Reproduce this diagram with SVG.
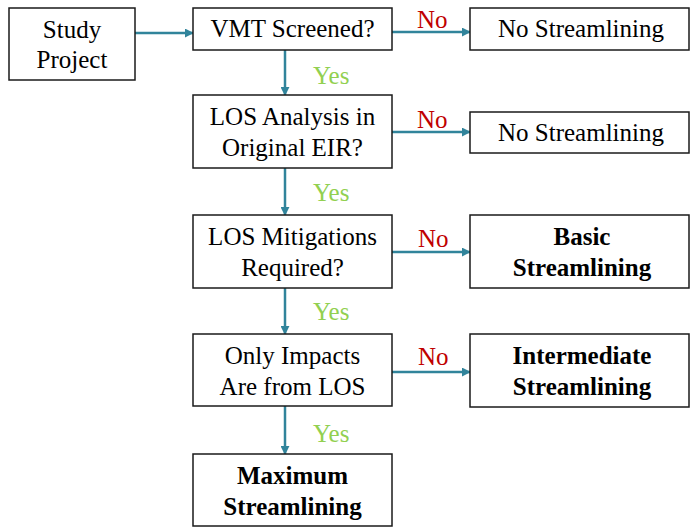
<svg xmlns="http://www.w3.org/2000/svg" width="690" height="527" viewBox="0 0 690 527">
<style>
.box{fill:#fff;stroke:#1a1a1a;stroke-width:1.5}
.t{font-family:"Liberation Serif","Times New Roman",serif;font-size:25px;fill:#000;text-anchor:middle}
.b{font-weight:bold}
.yes{font-family:"Liberation Serif","Times New Roman",serif;font-size:25px;fill:#92d050}
.no{font-family:"Liberation Serif","Times New Roman",serif;font-size:25px;fill:#c00000}
.c{stroke:#31849b;stroke-width:2.5;fill:none;marker-end:url(#ah)}
</style>
<defs>
<marker id="ah" viewBox="0 0 10 10" refX="9" refY="5" markerUnits="userSpaceOnUse" markerWidth="9" markerHeight="9" orient="auto">
<path d="M0,0 L10,5 L0,10 z" fill="#31849b"/>
</marker>
</defs>
<rect width="690" height="527" fill="#fff"/>
<g id="connectors">
<line class="c" x1="135" y1="33" x2="193" y2="33"/>
<line class="c" x1="392" y1="32" x2="470" y2="32"/>
<line class="c" x1="285" y1="50" x2="285" y2="95"/>
<line class="c" x1="392" y1="132" x2="470" y2="132"/>
<line class="c" x1="285" y1="168" x2="285" y2="215"/>
<line class="c" x1="392" y1="252" x2="470" y2="252"/>
<line class="c" x1="285" y1="288" x2="285" y2="334"/>
<line class="c" x1="392" y1="372" x2="470" y2="372"/>
<line class="c" x1="285" y1="406" x2="285" y2="454"/>
<text class="no" x="417" y="28">No</text>
<text class="no" x="417" y="128">No</text>
<text class="no" x="418" y="247">No</text>
<text class="no" x="418" y="365">No</text>
<text class="yes" x="313" y="84">Yes</text>
<text class="yes" x="313" y="201">Yes</text>
<text class="yes" x="313" y="320">Yes</text>
<text class="yes" x="313" y="442">Yes</text>
</g>
<g id="study">
<rect class="box" x="9" y="8" width="126" height="72"/>
<text class="t" x="72" y="38">Study</text>
<text class="t" x="72" y="68">Project</text>
</g>
<g id="vmt">
<rect class="box" x="193" y="8" width="199" height="42"/>
<text class="t" x="292.5" y="37">VMT Screened?</text>
</g>
<g id="nostream1">
<rect class="box" x="470" y="8" width="219" height="42"/>
<text class="t" x="581" y="37">No Streamlining</text>
</g>
<g id="losanalysis">
<rect class="box" x="193" y="95" width="199" height="73"/>
<text class="t" x="292.5" y="125">LOS Analysis in</text>
<text class="t" x="292.5" y="156">Original EIR?</text>
</g>
<g id="nostream2">
<rect class="box" x="470" y="112" width="219" height="41"/>
<text class="t" x="581" y="141">No Streamlining</text>
</g>
<g id="losmit">
<rect class="box" x="193" y="215" width="199" height="73"/>
<text class="t" x="292.5" y="245">LOS Mitigations</text>
<text class="t" x="292.5" y="276">Required?</text>
</g>
<g id="basic">
<rect class="box" x="470" y="215" width="219" height="73"/>
<text class="t b" x="582" y="245">Basic</text>
<text class="t b" x="582" y="276">Streamlining</text>
</g>
<g id="onlyimpacts">
<rect class="box" x="193" y="334" width="199" height="72"/>
<text class="t" x="292.5" y="364">Only Impacts</text>
<text class="t" x="292.5" y="395">Are from LOS</text>
</g>
<g id="intermediate">
<rect class="box" x="470" y="334" width="219" height="73"/>
<text class="t b" x="582" y="364">Intermediate</text>
<text class="t b" x="582" y="395">Streamlining</text>
</g>
<g id="maximum">
<rect class="box" x="193" y="454" width="199" height="72"/>
<text class="t b" x="292.5" y="484">Maximum</text>
<text class="t b" x="292.5" y="515">Streamlining</text>
</g>
</svg>
